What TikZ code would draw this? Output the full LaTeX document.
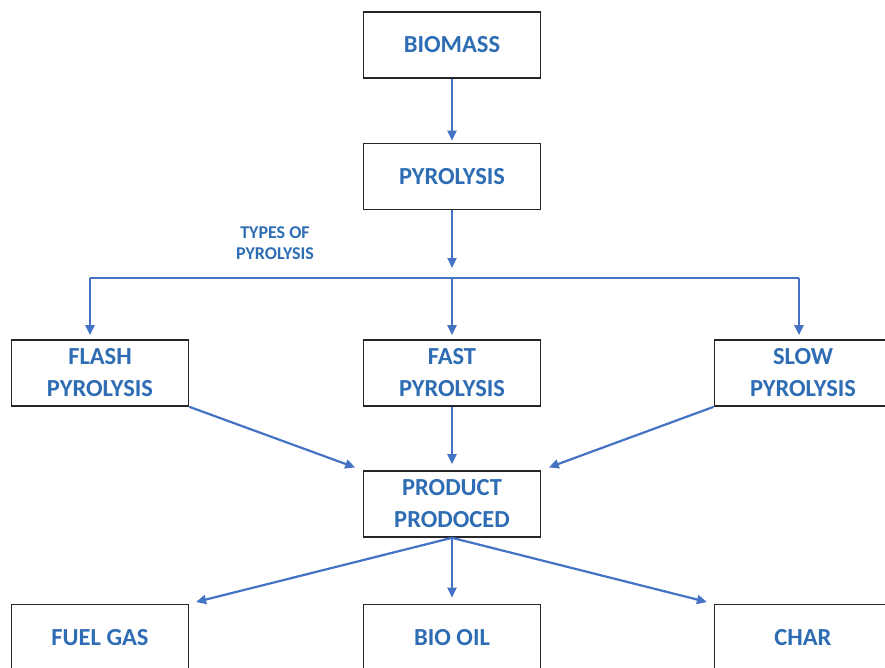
\documentclass[tikz,border=0pt]{standalone}
\usepackage{fontspec}
\setmainfont{Carlito}
\usetikzlibrary{arrows.meta}
\definecolor{labelblue}{HTML}{2E6DB4}
\definecolor{flowblue}{HTML}{4472C4}
\tikzset{
  stagebox/.style={draw=black!85, line width=1.6pt, fill=white, minimum width=177pt,
    minimum height=66pt, inner sep=0pt, align=center, text=labelblue,
    font=\fontsize{24.5}{32}\selectfont\bfseries},
  flow/.style={draw=flowblue, line width=2.2pt,
    -{Triangle[length=10pt,width=9pt]}},
  trunk/.style={draw=flowblue, line width=2.2pt},
  note/.style={text=labelblue, align=center, inner sep=0pt,
    font=\fontsize{18}{21}\selectfont\bfseries}
}
\begin{document}
\begin{tikzpicture}[x=1pt, y=-1pt]
\useasboundingbox (0,0) rectangle (885,668);
\begin{scope}
\clip (0,0) rectangle (885,668);

% stages
\node[stagebox] (biomass) at (452,45) {BIOMASS};
\node[stagebox] (pyro) at (452,176.5) {PYROLYSIS};
\node[stagebox] (flash) at (100,373) {FLASH\\PYROLYSIS};
\node[stagebox] (fast) at (452,373) {FAST\\PYROLYSIS};
\node[stagebox] (slow) at (803,373) {SLOW\\PYROLYSIS};
\node[stagebox] (product) at (452,504) {PRODUCT\\PRODOCED};
\node[stagebox] (fuel) at (100,637.5) {FUEL GAS};
\node[stagebox] (oil) at (452,637.5) {BIO OIL};
\node[stagebox] (char) at (803,637.5) {CHAR};

\node[note] (types) at (275,243) {TYPES OF\\PYROLYSIS};

% branching bus
\coordinate (busL) at (90,278);
\coordinate (busM) at (452,278);
\coordinate (busR) at (799,278);
\coordinate (busIn) at (452,268);

\draw[flow, shorten >=2pt] (biomass.south) -- (pyro.north);
\draw[flow] (pyro.south -| busIn) -- (busIn);
\draw[trunk] (busL) -- (busR);
\draw[flow, shorten >=4pt] (busL) -- (busL |- flash.north);
\draw[flow, shorten >=4pt] (busM) -- (busM |- fast.north);
\draw[flow, shorten >=4pt] (busR) -- (busR |- slow.north);

% into the product
\draw[flow, shorten >=8pt] (flash.south east) -- (product.north west);
\draw[flow, shorten >=6pt] (fast.south -| busM) -- (product.north -| busM);
\draw[flow, shorten >=8pt] (slow.south west) -- (product.north east);

% products
\draw[flow, shorten >=7pt] (product.south) -- (fuel.north east);
\draw[flow, shorten >=6pt] (product.south) -- (oil.north);
\draw[flow, shorten >=7pt] (product.south) -- (char.north west);
\end{scope}
\end{tikzpicture}
\end{document}
